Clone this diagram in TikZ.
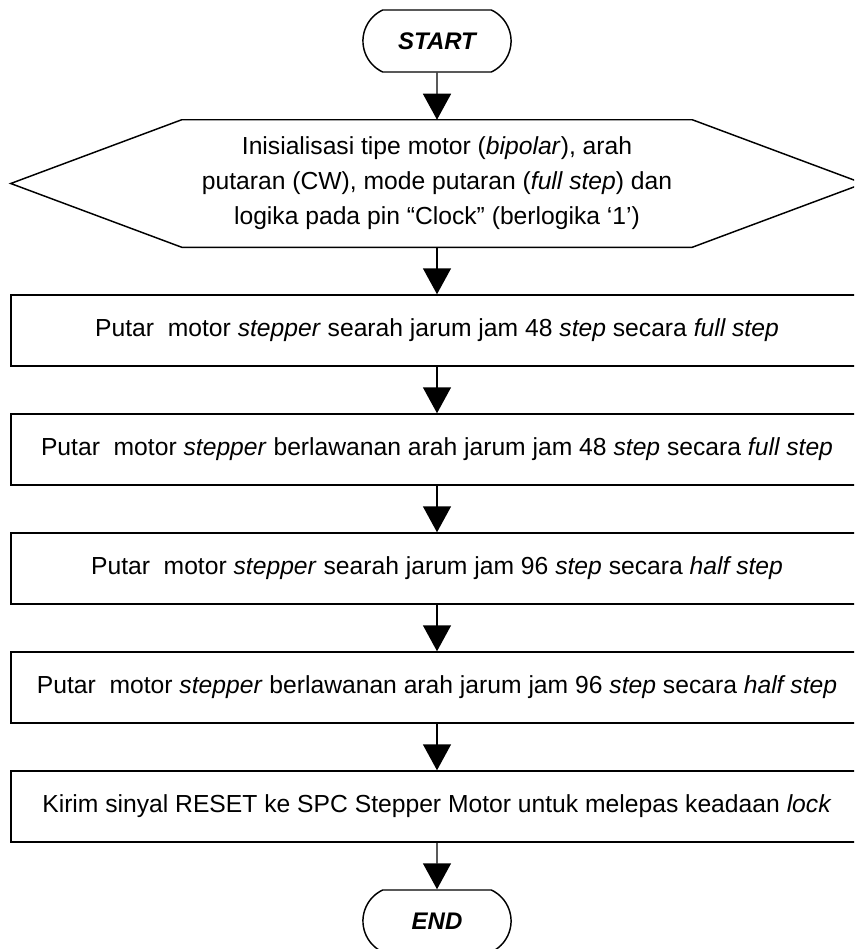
\documentclass[tikz,border=0pt]{standalone}
\usepackage{fontspec}
\setmainfont{Liberation Sans}
\usetikzlibrary{arrows.meta,shapes.misc}

\begin{document}
\begin{tikzpicture}[x=0.75pt,y=0.75pt,
  every node/.style={font=\fontsize{18.5}{26.25}\selectfont},
  term/.style={draw,line width=1.1pt,rounded rectangle,rounded rectangle arc length=130,minimum width=117.75pt,minimum height=46.5pt,font=\fontsize{18}{20}\selectfont\bfseries\itshape},
  stepbox/.style={draw,line width=1.1pt,minimum width=639pt,minimum height=53.25pt,inner sep=0pt},
  arr/.style={-{Triangle[width=21pt,length=19.5pt]},line width=1.1pt}]
  \useasboundingbox (0,0) rectangle (854,-949); \clip (0,0) rectangle (854,-949);
  \node[term] (start) at (437,-41) {START};
  \node[minimum width=639pt,minimum height=95.25pt,align=center,inner sep=0pt] (init) at (437,-183.5) {Inisialisasi tipe motor (\textit{bipolar}), arah\\ putaran (CW), mode putaran (\textit{full step}) dan\\ logika pada pin “Clock” (berlogika ‘1’)};
  \draw[line width=1.1pt] (init.west) -- ([xshift=128.25pt]init.north west) -- ([xshift=-128.25pt]init.north east) -- (init.east) -- ([xshift=-128.25pt]init.south east) -- ([xshift=128.25pt]init.south west) -- cycle;
  \node[stepbox] (cw1) at (437,-330.5) {Putar\ \ motor \textit{stepper} searah jarum jam 48 \textit{step} secara \textit{full step}};
  \node[stepbox] (ccw1) at (437,-449.5) {Putar\ \ motor \textit{stepper} berlawanan arah jarum jam 48 \textit{step} secara \textit{full step}};
  \node[stepbox] (cw2) at (437,-568.5) {Putar\ \ motor \textit{stepper} searah jarum jam 96 \textit{step} secara \textit{half step}};
  \node[stepbox] (ccw2) at (437,-687.5) {Putar\ \ motor \textit{stepper} berlawanan arah jarum jam 96 \textit{step} secara \textit{half step}};
  \node[stepbox] (reset) at (437,-806.5) {Kirim sinyal RESET ke SPC Stepper Motor untuk melepas keadaan \textit{lock}};
  \node[term] (fin) at (437,-921) {END};
  % alur
  \draw[arr] (start) -- (init); \draw[arr] (init) -- (cw1); \draw[arr] (cw1) -- (ccw1);
  \draw[arr] (ccw1) -- (cw2); \draw[arr] (cw2) -- (ccw2); \draw[arr] (ccw2) -- (reset); \draw[arr] (reset) -- (fin);
\end{tikzpicture}
\end{document}
